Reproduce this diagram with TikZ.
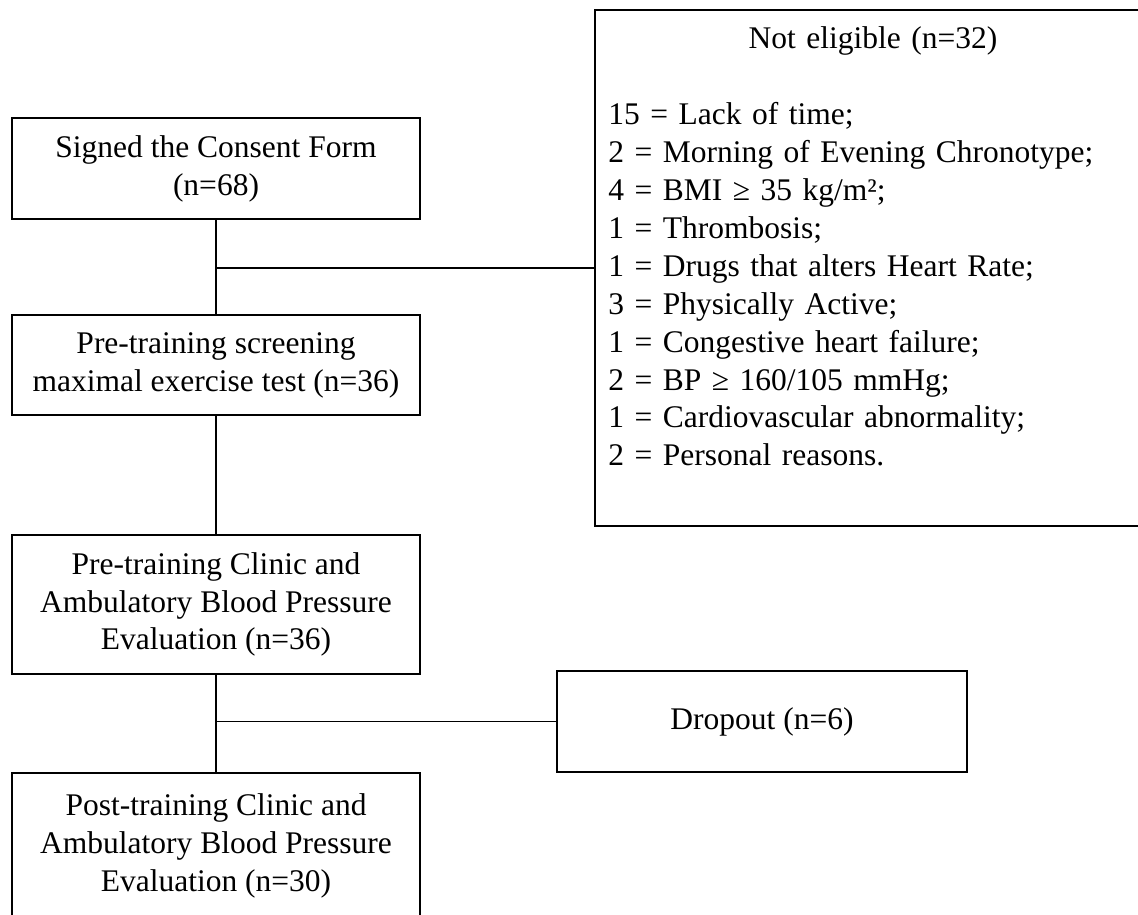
\documentclass[tikz,border=0pt]{standalone}
\usepackage{fontspec}
\setmainfont{Liberation Serif}

\tikzset{
  flowbox/.style={draw, line width=1pt, align=center, inner sep=0pt, minimum width=204pt},
  link/.style={line width=0.75pt}
}

\begin{document}
\begin{tikzpicture}[x=0.5pt, y=-0.5pt, font=\fontsize{15.75}{18.95}\selectfont]
    % Visible area of the chart
    \useasboundingbox (0,0) rectangle (1138,914);
    \clip (0,0) rectangle (1138,914);

    % 1. Main column of steps
    \node[flowbox, minimum height=50.5pt] (consent) at (216,168.5) {Signed the Consent Form\\(n=68)};
    \node[flowbox, minimum height=50pt] (screening) at (216,365) {Pre-training screening\\maximal exercise test (n=36)};
    \node[flowbox, minimum height=69.5pt] (prebp) at (216,604.5) {Pre-training Clinic and\\Ambulatory Blood Pressure\\Evaluation (n=36)};
    \node[flowbox, minimum height=73pt] (postbp) at (216,846) {Post-training Clinic and\\Ambulatory Blood Pressure\\Evaluation (n=30)};

    % 2. Excluded participants
    \node[flowbox, anchor=north west, minimum width=278.5pt, minimum height=258pt] (notelig) at (594,9) {};
    \node[anchor=base west, inner sep=0pt, text width=264.5pt] (reasons) at (608,49) {%
        {\centering Not eligible (n=32)\par}\vspace{18.95pt}%
        15 = Lack of time;\\
        2 = Morning of Evening Chronotype;\\
        4 = BMI ≥ 35 kg/m²;\\
        1 = Thrombosis;\\
        1 = Drugs that alters Heart Rate;\\
        3 = Physically Active;\\
        1 = Congestive heart failure;\\
        2 = BP ≥ 160/105 mmHg;\\
        1 = Cardiovascular abnormality;\\
        2 = Personal reasons.};

    % 3. Dropouts
    \node[flowbox, minimum width=205pt, minimum height=50.5pt] (dropout) at (762,721.5) {Dropout (n=6)};

    % 4. Connectors
    \draw[link] (consent.south) -- (screening.north);
    \draw[link] (screening.south) -- (prebp.north);
    \draw[link] (prebp.south) -- (postbp.north);
    \draw[link] (notelig.west) -- (notelig.west -| consent.south);
    \draw[link] (dropout.west) -- (dropout.west -| prebp.south);

\end{tikzpicture}
\end{document}
